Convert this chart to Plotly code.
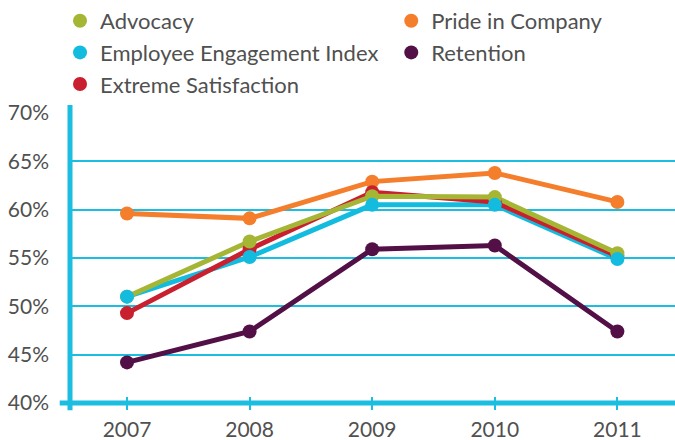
import plotly.graph_objects as go

years = [2007, 2008, 2009, 2010, 2011]
advocacy = [51.0, 56.7, 61.4, 61.3, 55.5]
engagement = [51.0, 55.1, 60.5, 60.5, 54.9]
satisfaction = [49.3, 55.9, 61.8, 60.8, 55.2]
pride = [59.6, 59.1, 62.9, 63.8, 60.8]
retention = [44.2, 47.4, 55.9, 56.3, 47.4]

y_ticks = [40, 45, 50, 55, 60, 65, 70]
y_labels = [f"{v}%" for v in y_ticks]

colors = {
    "Advocacy": "#A5B534",
    "Pride in Company": "#F47E2B",
    "Employee Engagement Index": "#13BCDF",
    "Retention": "#521047",
    "Extreme Satisfaction": "#C8202F",
}
series = {
    "Advocacy": advocacy,
    "Pride in Company": pride,
    "Employee Engagement Index": engagement,
    "Retention": retention,
    "Extreme Satisfaction": satisfaction,
}
legend_of = {
    "Advocacy": ("legend", 1),
    "Employee Engagement Index": ("legend", 2),
    "Extreme Satisfaction": ("legend", 3),
    "Pride in Company": ("legend2", 1),
    "Retention": ("legend2", 2),
}

fig = go.Figure()
line_order = ["Retention", "Pride in Company", "Employee Engagement Index", "Extreme Satisfaction", "Advocacy"]
for name in line_order:
    fig.add_trace(go.Scatter(x=years, y=series[name], mode="lines",
                             line=dict(color=colors[name], width=5),
                             showlegend=False, hoverinfo="skip"))
marker_order = ["Retention", "Pride in Company", "Extreme Satisfaction", "Advocacy", "Employee Engagement Index"]
for name in marker_order:
    lg, rank = legend_of[name]
    fig.add_trace(go.Scatter(x=years, y=series[name], mode="markers", name=name,
                             marker=dict(color=colors[name], size=14),
                             legend=lg, legendrank=rank, legendgroup=name))

# invisible overlay axis to draw upward half of the crossing ticks
fig.add_trace(go.Scatter(x=years, y=[None] * len(years), xaxis="x2", showlegend=False,
                         hoverinfo="skip", mode="lines"))

axis_color = "#1BBDE0"
font_color = "#505050"
FONT = "Lato, Open Sans, sans-serif"

legend_common = dict(orientation="v", xanchor="left", yanchor="top", yref="container",
                     font=dict(family=FONT, size=22, color=font_color),
                     bgcolor="rgba(0,0,0,0)", tracegroupgap=0, itemwidth=30)

fig.update_layout(
    width=675, height=440,
    margin=dict(l=70, r=0, t=113, b=37, autoexpand=False),
    paper_bgcolor="white", plot_bgcolor="white",
    font=dict(family=FONT, size=21, color=font_color),
    legend=dict(x=-0.0165, y=1.0, **legend_common),
    legend2=dict(x=0.531, y=1.0, **legend_common),
    xaxis=dict(range=[2006.535, 2011.47], tickvals=years, ticktext=[str(y) for y in years],
               showgrid=False, zeroline=False, showline=False,
               ticks="outside", ticklen=6, tickwidth=2, tickcolor=axis_color,
               ticklabelstandoff=2),
    xaxis2=dict(range=[2006.535, 2011.47], tickvals=years, overlaying="x", side="bottom",
                showgrid=False, zeroline=False, showline=False, showticklabels=False,
                ticks="inside", ticklen=6, tickwidth=2, tickcolor=axis_color),
    yaxis=dict(range=[40, 70], tickvals=y_ticks, ticktext=y_labels,
               showgrid=True, gridcolor=axis_color, gridwidth=2,
               zeroline=False, showline=False, ticks="", ticklabelstandoff=20),
)

# axis lines
fig.add_shape(type="line", xref="paper", yref="paper", x0=-0.017, x1=1, y0=0, y1=0,
              line=dict(color=axis_color, width=5), layer="below")
fig.add_shape(type="line", xref="paper", yref="paper", x0=0, x1=0, y0=-0.025, y1=1.028,
              line=dict(color=axis_color, width=5), layer="below")

fig.write_html("out.html", config={"displayModeBar": False},
               post_script="document.body.style.margin='0';")
